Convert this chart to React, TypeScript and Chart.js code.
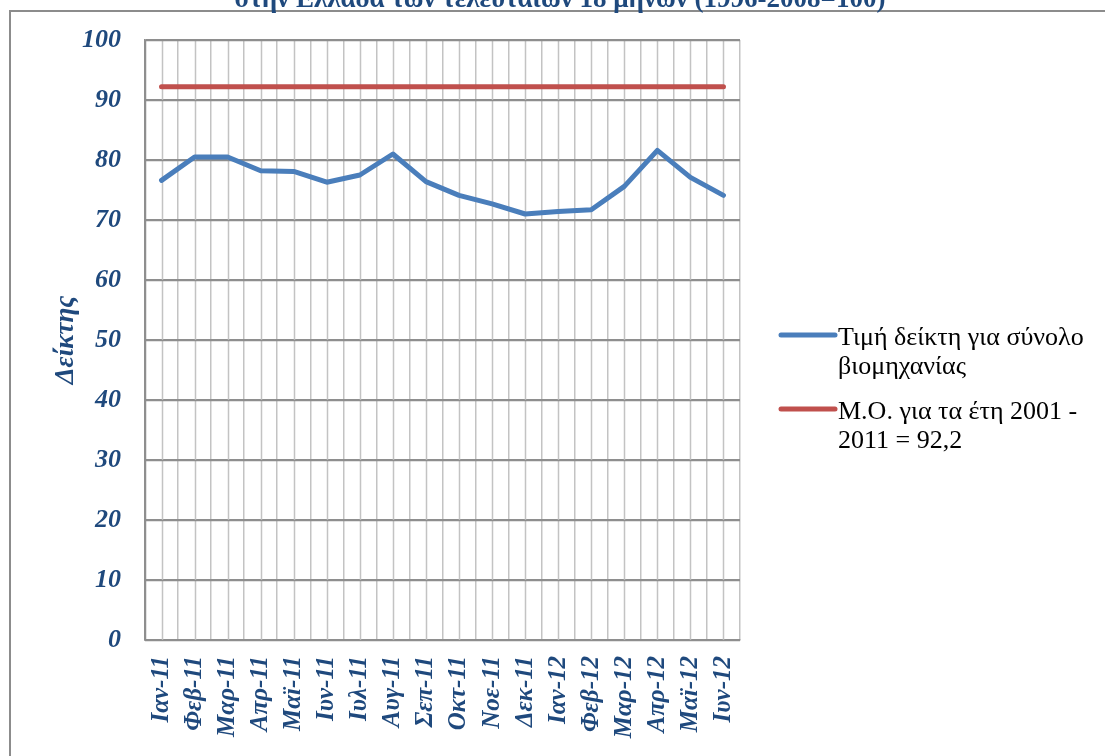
import React, { useEffect, useRef } from "react";
import { Chart, registerables } from "chart.js";

Chart.register(...registerables);

const categories = [
  "Ιαν-11", "Φεβ-11", "Μαρ-11", "Απρ-11", "Μαϊ-11", "Ιυν-11", "Ιυλ-11", "Αυγ-11", "Σεπ-11",
  "Οκτ-11", "Νοε-11", "Δεκ-11", "Ιαν-12", "Φεβ-12", "Μαρ-12", "Απρ-12", "Μαϊ-12", "Ιυν-12",
];
const indexValues = [76.6, 80.5, 80.5, 78.2, 78.1, 76.3, 77.5, 81.0, 76.4, 74.1, 72.7, 71.0, 71.4, 71.7, 75.6, 81.6, 77.1, 74.1];
const averageValue = 92.2;
const averageValues = categories.map(() => averageValue);
const seriesLabels = ["Τιμή δείκτη για σύνολο βιομηχανίας", "Μ.Ο. για τα έτη 2001 - 2011 = 92,2"];
const legendLines = [["Τιμή δείκτη για σύνολο", "βιομηχανίας"], ["Μ.Ο. για τα έτη 2001 -", "2011 = 92,2"]];
const titleText = "στην Ελλάδα των τελευταίων 18 μηνών (1996-2008=100)";
const yAxisTitle = "Δείκτης";
const yTicks = [0, 10, 20, 30, 40, 50, 60, 70, 80, 90, 100];

const BLUE = "#4A7EBB";
const RED = "#C0504D";
const NAVY = "#1F497D";
const SERIF = "'Liberation Serif', 'Times New Roman', serif";

const decorPlugin = {
  id: "decor",
  beforeDatasetsDraw(chart: any) {
    const { ctx, chartArea, scales } = chart;
    const x = scales.x;
    ctx.save();
    ctx.strokeStyle = "#c3c3c3";
    ctx.lineWidth = 1.5;
    for (let i = 0; i < categories.length; i++) {
      const px = Math.round(x.getPixelForValue(i)) + 0.5;
      ctx.beginPath();
      ctx.moveTo(px, chartArea.top);
      ctx.lineTo(px, chartArea.bottom);
      ctx.stroke();
    }
    const y = scales.y;
    ctx.strokeStyle = "#8e8e8e";
    ctx.lineWidth = 1.5;
    for (const t of yTicks) {
      const py = Math.round(y.getPixelForValue(t)) + 0.5;
      ctx.beginPath();
      ctx.moveTo(chartArea.left, py);
      ctx.lineTo(chartArea.right, py);
      ctx.stroke();
    }
    ctx.beginPath();
    ctx.moveTo(chartArea.left + 0.5, chartArea.top);
    ctx.lineTo(chartArea.left + 0.5, chartArea.bottom);
    ctx.stroke();
    ctx.restore();
  },
  afterDraw(chart: any) {
    const { ctx, chartArea } = chart;
    ctx.save();
    ctx.strokeStyle = "#8c8c8c";
    ctx.lineWidth = 2;
    ctx.beginPath();
    ctx.moveTo(1105, 11);
    ctx.lineTo(10, 11);
    ctx.lineTo(10, 756);
    ctx.stroke();
    ctx.fillStyle = NAVY;
    ctx.font = `bold 27px ${SERIF}`;
    ctx.textAlign = "center";
    ctx.textBaseline = "alphabetic";
    ctx.fillText(titleText, 560, 7);
    ctx.save();
    ctx.translate(66, (chartArea.top + chartArea.bottom) / 2);
    ctx.rotate(-Math.PI / 2);
    ctx.font = `bold italic 27px ${SERIF}`;
    ctx.textAlign = "center";
    ctx.textBaseline = "middle";
    ctx.fillText(yAxisTitle, 0, 0);
    ctx.restore();
    const colors = [BLUE, RED];
    const ys = [335, 409];
    ctx.font = `26px ${SERIF}`;
    ctx.textAlign = "left";
    ctx.textBaseline = "alphabetic";
    for (let i = 0; i < 2; i++) {
      ctx.strokeStyle = colors[i];
      ctx.lineWidth = 5;
      ctx.lineCap = "round";
      ctx.beginPath();
      ctx.moveTo(781, ys[i]);
      ctx.lineTo(835, ys[i]);
      ctx.stroke();
      ctx.fillStyle = "#000";
      legendLines[i].forEach((line, j) => {
        ctx.fillText(line, 838, ys[i] + 10 + j * 29);
      });
    }
    ctx.restore();
  },
};

export default function App() {
  const ref = useRef<HTMLCanvasElement | null>(null);
  useEffect(() => {
    document.body.style.margin = "0";
    const canvas = ref.current!;
    const chart = new Chart(canvas, {
      type: "line",
      data: {
        labels: categories,
        datasets: [
          {
            label: seriesLabels[0],
            data: indexValues,
            borderColor: BLUE,
            backgroundColor: BLUE,
            borderWidth: 5,
            pointRadius: 0,
            tension: 0,
            borderCapStyle: "round",
            borderJoinStyle: "round",
          },
          {
            label: seriesLabels[1],
            data: averageValues,
            borderColor: RED,
            backgroundColor: RED,
            borderWidth: 5,
            pointRadius: 0,
            tension: 0,
            borderCapStyle: "round",
          },
        ],
      },
      options: {
        responsive: false,
        animation: false,
        layout: { padding: { left: 0, top: 40, right: 365, bottom: 0 } },
        plugins: { legend: { display: false }, tooltip: { enabled: false }, title: { display: false } },
        scales: {
          x: {
            type: "category",
            offset: true,
            grid: { offset: true, color: "#c3c3c3", lineWidth: 1.5, drawTicks: false },
            border: { color: "#8e8e8e", width: 1.5 },
            ticks: {
              autoSkip: false,
              minRotation: 90,
              maxRotation: 90,
              padding: 16,
              color: NAVY,
              font: { family: SERIF, size: 25, weight: "bold", style: "italic" },
            },
            afterFit(scale: any) {
              scale.height = 116;
            },
          },
          y: {
            min: 0,
            max: 100,
            grid: { color: "#8e8e8e", lineWidth: 1.5, drawTicks: false },
            border: { color: "#8e8e8e", width: 1.5 },
            ticks: {
              stepSize: 10,
              padding: 24,
              color: NAVY,
              font: { family: SERIF, size: 26, weight: "bold", style: "italic" },
            },
            afterFit(scale: any) {
              scale.width = 145;
            },
          },
        },
      },
      plugins: [decorPlugin],
    } as any);
    return () => chart.destroy();
  }, []);
  return (
    <div style={{ position: "absolute", left: 0, top: 0, width: 1105, height: 756, background: "#fff" }}>
      <canvas ref={ref} width={1105} height={756} />
    </div>
  );
}
